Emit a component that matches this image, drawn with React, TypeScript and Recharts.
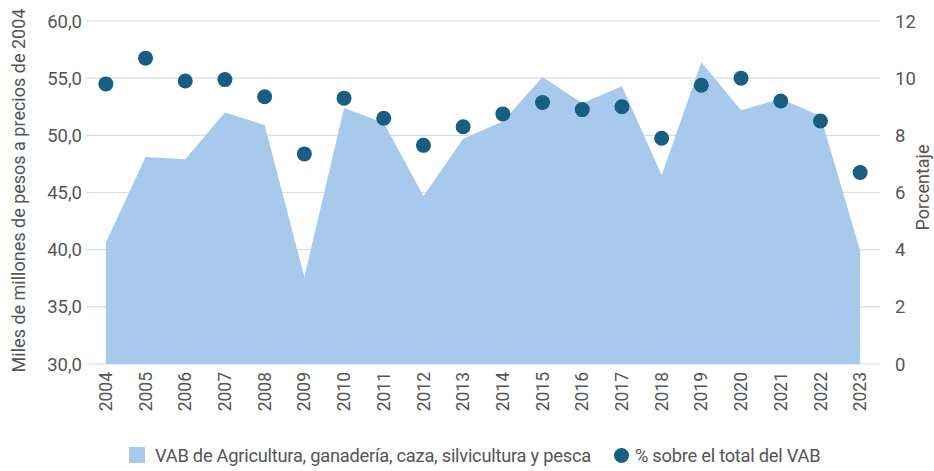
import { ComposedChart, Area, Line, XAxis, YAxis, CartesianGrid, Legend } from "recharts";

const years = [
  "2004", "2005", "2006", "2007", "2008", "2009", "2010", "2011", "2012", "2013",
  "2014", "2015", "2016", "2017", "2018", "2019", "2020", "2021", "2022", "2023",
];
// Miles de millones de pesos a precios de 2004
const vab = [
  40.6, 48.1, 47.9, 52.0, 50.9, 37.6, 52.4, 51.1, 44.7, 49.7,
  51.2, 55.1, 52.8, 54.3, 46.5, 56.4, 52.2, 53.2, 51.7, 39.9,
];
// % sobre el total del VAB
const share = [
  9.8, 10.7, 9.9, 9.95, 9.35, 7.35, 9.3, 8.6, 7.65, 8.3,
  8.75, 9.15, 8.9, 9.0, 7.9, 9.75, 10.0, 9.2, 8.5, 6.7,
];
const leftTicks = [30, 35, 40, 45, 50, 55, 60];
const rightTicks = [0, 2, 4, 6, 8, 10, 12];

const seriesNames = {
  vab: "VAB de Agricultura, ganadería, caza, silvicultura y pesca",
  share: "% sobre el total del VAB",
};
const axisTitles = {
  left: "Miles de millones de pesos a precios de 2004",
  right: "Porcentaje",
};

const chartData = years.map((year, i) => ({ year, vab: vab[i], share: share[i] }));

const FONT = "Roboto, sans-serif";
const TEXT = "#555555";
const AREA = "#a7c9eb";
const DOT = "#175e82";

function YearTick(props: any) {
  const { x, y, payload } = props;
  return (
    <text
      x={x}
      y={y}
      dy="0.35em"
      transform={`rotate(-90, ${x}, ${y})`}
      textAnchor="end"
      fill={TEXT}
      fontSize={17.5}
      fontFamily={FONT}
    >
      {payload.value}
    </text>
  );
}

function LeftTitle(props: any) {
  const vb = props.viewBox;
  const cx = 19;
  const cy = vb.y + vb.height / 2 - 2;
  return (
    <text x={cx} y={cy} dy="0.35em" transform={`rotate(-90, ${cx}, ${cy})`} textAnchor="middle" fill={TEXT} fontSize={18} fontFamily={FONT}>
      {axisTitles.left}
    </text>
  );
}

function RightTitle(props: any) {
  const vb = props.viewBox;
  const cx = 923;
  const cy = vb.y + vb.height / 2 - 5;
  return (
    <text x={cx} y={cy} dy="0.35em" transform={`rotate(-90, ${cx}, ${cy})`} textAnchor="middle" fill={TEXT} fontSize={18} fontFamily={FONT}>
      {axisTitles.right}
    </text>
  );
}

function LegendBox() {
  return (
    <div style={{ height: 30, display: "flex", alignItems: "center", paddingLeft: 129, paddingTop: 2, fontFamily: FONT, fontSize: 18.3, letterSpacing: -0.25, color: TEXT, whiteSpace: "nowrap" }}>
      <span style={{ width: 16, height: 16, background: AREA, display: "inline-block", marginRight: 10 }} />
      <span style={{ marginRight: 23 }}>{seriesNames.vab}</span>
      <span style={{ width: 15, height: 15, borderRadius: "50%", background: DOT, display: "inline-block", marginRight: 6 }} />
      <span>{seriesNames.share}</span>
    </div>
  );
}

export default function App() {
  return (
    <div style={{ position: "absolute", left: 0, top: 0, background: "#fff" }}>
      <ComposedChart width={934} height={471} data={chartData} margin={{ top: 21, right: 0, left: 0, bottom: 1 }}>
        <CartesianGrid yAxisId="left" vertical={false} stroke="#dcdcdc" strokeWidth={1.2} />
        <XAxis
          dataKey="year"
          scale="band"
          height={74}
          interval={0}
          axisLine={false}
          tickLine={false}
          tickSize={0}
          tickMargin={8}
          tick={<YearTick />}
        />
        <YAxis
          yAxisId="left"
          width={86}
          domain={[30, 60]}
          ticks={leftTicks}
          axisLine={false}
          tickLine={false}
          tickSize={0}
          tickMargin={4}
          tickFormatter={(v: number) => v.toFixed(1).replace(".", ",")}
          tick={{ fill: TEXT, fontSize: 18.5, fontFamily: FONT }}
          label={{ content: <LeftTitle /> }}
        />
        <YAxis
          yAxisId="right"
          orientation="right"
          width={54}
          domain={[0, 12]}
          ticks={rightTicks}
          axisLine={false}
          tickLine={false}
          tickSize={0}
          tickMargin={15}
          tick={{ fill: TEXT, fontSize: 18.5, fontFamily: FONT, textAnchor: "start" }}
          label={{ content: <RightTitle /> }}
        />
        <Legend verticalAlign="bottom" align="left" content={<LegendBox />} />
        <Area
          yAxisId="left"
          type="linear"
          dataKey="vab"
          name={seriesNames.vab}
          fill={AREA}
          fillOpacity={1}
          stroke="none"
          isAnimationActive={false}
          activeDot={false}
        />
        <Line
          yAxisId="right"
          type="linear"
          dataKey="share"
          name={seriesNames.share}
          stroke="none"
          strokeWidth={0}
          dot={{ r: 7.5, fill: DOT, stroke: "none" }}
          activeDot={false}
          isAnimationActive={false}
        />
      </ComposedChart>
    </div>
  );
}
